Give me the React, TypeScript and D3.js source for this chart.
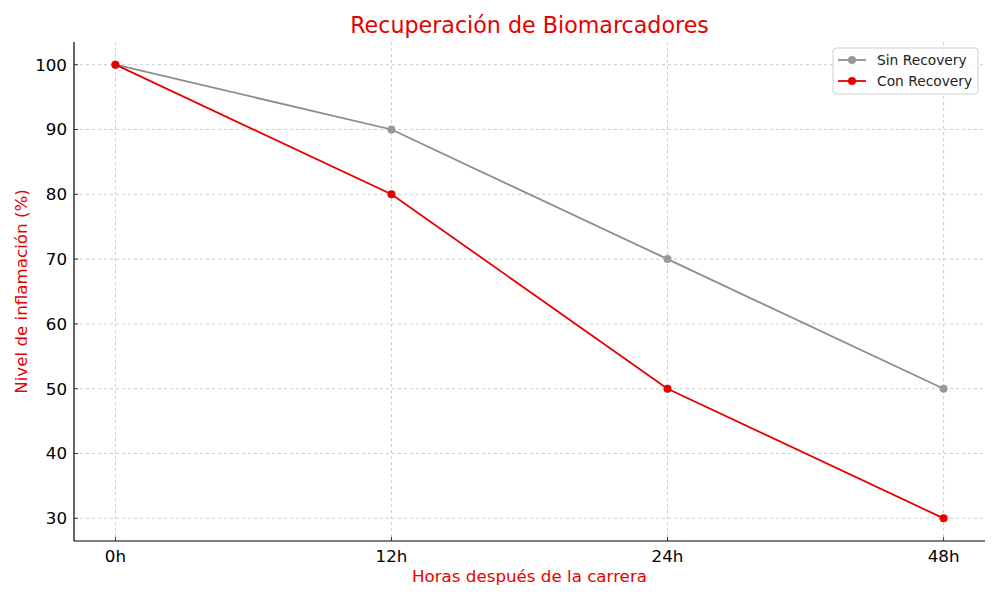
import React from 'react'
import * as d3 from 'd3'

const categories = ['0h', '12h', '24h', '48h']
const sinRecovery = [100, 90, 70, 50]
const conRecovery = [100, 80, 50, 30]
const yTicks = [30, 40, 50, 60, 70, 80, 90, 100]

const FONT = 'DejaVu Sans, sans-serif'
const RED = '#e60000'
const GRAY = '#8c8c8c'

const width = 1000
const height = 600
const margin = { top: 42, right: 15, bottom: 59, left: 74 }

const App: React.FC = () => {
  const innerW = width - margin.left - margin.right
  const innerH = height - margin.top - margin.bottom

  const xScale = d3.scaleLinear().domain([-0.15, categories.length - 1 + 0.15]).range([0, innerW])
  const yScale = d3.scaleLinear().domain([26.5, 103.5]).range([innerH, 0])

  const line = d3.line<number>()
    .x((_, i) => xScale(i))
    .y(d => yScale(d))

  const series = [
    { name: 'Sin Recovery', values: sinRecovery, color: GRAY, marker: '#999999' },
    { name: 'Con Recovery', values: conRecovery, color: RED, marker: RED },
  ]

  return (
    <svg width={width} height={height} style={{ position: 'absolute', left: 0, top: 0, background: '#fff' }}>
      <g transform={`translate(${margin.left},${margin.top})`} fontFamily={FONT}>
        {/* grid */}
        {yTicks.map(t => (
          <line key={'gy' + t} x1={0} x2={innerW} y1={yScale(t)} y2={yScale(t)}
            stroke="#cccccc" strokeWidth={1} strokeDasharray="3,3" />
        ))}
        {categories.map((c, i) => (
          <line key={'gx' + c} x1={xScale(i)} x2={xScale(i)} y1={0} y2={innerH}
            stroke="#cccccc" strokeWidth={1} strokeDasharray="3,3" />
        ))}

        {/* lines */}
        {series.map(s => (
          <g key={s.name}>
            <path d={line(s.values) || ''} fill="none" stroke={s.color} strokeWidth={1.8} />
            {s.values.map((v, i) => (
              <circle key={i} cx={xScale(i)} cy={yScale(v)} r={4} fill={s.marker} />
            ))}
          </g>
        ))}

        {/* spines */}
        <line x1={0} x2={0} y1={0} y2={innerH} stroke="#000" strokeWidth={1.2} />
        <line x1={0} x2={innerW} y1={innerH} y2={innerH} stroke="#000" strokeWidth={1.2} />

        {/* y ticks */}
        {yTicks.map(t => (
          <g key={'yt' + t} transform={`translate(0,${yScale(t)})`}>
            <line x1={0} x2={4} stroke="#333" strokeWidth={1} />
            <text x={-7} dy="0.35em" textAnchor="end" fontSize={16.7} fill="#000">{t}</text>
          </g>
        ))}

        {/* x ticks */}
        {categories.map((c, i) => (
          <g key={'xt' + c} transform={`translate(${xScale(i)},${innerH})`}>
            <line y1={0} y2={-4} stroke="#333" strokeWidth={1} />
            <text y={21} textAnchor="middle" fontSize={16.7} fill="#000">{c}</text>
          </g>
        ))}

        {/* labels */}
        <text x={innerW / 2} y={-9} textAnchor="middle" fontSize={22.2} fill={RED}>
          Recuperación de Biomarcadores
        </text>
        <text x={innerW / 2} y={innerH + 41} textAnchor="middle" fontSize={16.7} fill={RED}>
          Horas después de la carrera
        </text>
        <text transform={`translate(${-47},${innerH / 2}) rotate(-90)`} textAnchor="middle" fontSize={16.7} fill={RED}>
          Nivel de inflamación (%)
        </text>

        {/* legend */}
        <g transform={`translate(${innerW - 152},6)`}>
          <rect x={0} y={0} width={145} height={46} rx={3} fill="#fff" fillOpacity={0.8}
            stroke="#d0d0d0" strokeWidth={1} />
          {series.map((s, i) => (
            <g key={s.name} transform={`translate(0,${12 + i * 21})`}>
              <line x1={5} x2={33} stroke={s.color} strokeWidth={1.8} />
              <circle cx={19} cy={0} r={4} fill={s.marker} />
              <text x={44} dy="0.35em" fontSize={13.8} fill="#222">{s.name}</text>
            </g>
          ))}
        </g>
      </g>
    </svg>
  )
}

export default App
